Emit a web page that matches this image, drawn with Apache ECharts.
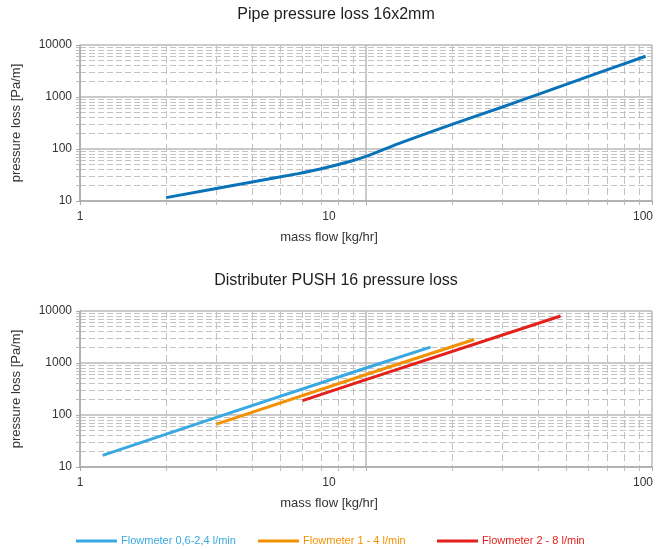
<!DOCTYPE html>
<html><head><meta charset="utf-8">
<script src="https://cdn.jsdelivr.net/npm/echarts@6/dist/echarts.min.js"></script>
<style>html,body{margin:0;padding:0;background:#fff}#c{width:656px;height:549px}</style>
</head><body><div id="c"></div>
<script>
const FONT = '"Liberation Sans", Arial, Helvetica, sans-serif';
const titleTop = 'Pipe pressure loss 16x2mm';
const titleBottom = 'Distributer PUSH 16 pressure loss';
const xAxisName = 'mass flow [kg/hr]';
const yAxisName = 'pressure loss [Pa/m]';
const xTickLabels = [1, 10, 100];
const yTickLabels = [10, 100, 1000, 10000];
const xMinor = [2,3,4,5,6,7,8,9,20,30,40,50,60,70,80,90];
const yMinor = [20,30,40,50,60,70,80,90,200,300,400,500,600,700,800,900,2000,3000,4000,5000,6000,7000,8000,9000];

const pipeFlow = [2.0, 4.0, 5.8, 6.8, 8.9, 10, 13, 20, 30, 40, 60, 95];
const pipeLoss = [11.6, 23.2, 33.6, 40.2, 58.8, 72, 127, 298, 643, 1127, 2500, 6070];

const seriesNames = ['Flowmeter 0,6-2,4 l/min', 'Flowmeter 1 - 4 l/min', 'Flowmeter 2 - 8 l/min'];
const flowA = [1.2, 3, 10, 16.8];
const lossA = [16.7, 90, 800, 2020];
const flowB = [3, 10, 23.9];
const lossB = [66.7, 600, 2830];
const flowC = [6, 10, 47.9];
const lossC = [189, 480, 8020];

const colPipe = '#0a72b9';
const colA = '#38a9e1';
const colB = '#f39200';
const colC = '#e3201b';

const pair = (xs, ys) => xs.map((x, i) => [x, ys[i]]);
const TXT = '#333';

function xAxesFor(g) {
  return [
    { type: 'log', logBase: 10, gridIndex: g, min: 1, max: 100, position: 'bottom',
      axisLine: { show: false }, axisLabel: { show: false },
      axisTick: { show: true, customValues: xMinor, length: 4, lineStyle: { color: '#bdbdbd' } },
      splitLine: { show: true, lineStyle: { color: '#c3c3c3', width: 1, type: [7, 4] } } },
    { type: 'log', logBase: 10, gridIndex: g, min: 1, max: 100, position: 'bottom',
      name: xAxisName, nameLocation: 'middle', nameGap: 30,
      nameTextStyle: { fontFamily: FONT, fontSize: 13, color: TXT, padding: [0, 74, 0, 0] },
      axisLine: { show: true, onZero: false, lineStyle: { color: '#aaaaaa', width: 1.5 } },
      axisTick: { show: true, customValues: xTickLabels, length: 4, lineStyle: { color: '#aaaaaa' } },
      axisLabel: { show: true, customValues: xTickLabels, margin: 10, fontFamily: FONT, fontSize: 12, color: TXT,
        formatter: v => { const r = Math.round(v); return r === 10 ? '{ten|10}' : r === 100 ? '{hun|100}' : '{one|' + r + '}'; },
        rich: {
          one: { fontFamily: FONT, fontSize: 12, color: TXT },
          ten: { fontFamily: FONT, fontSize: 12, color: TXT, padding: [0, 74, 0, 0] },
          hun: { fontFamily: FONT, fontSize: 12, color: TXT, padding: [0, 18, 0, 0] }
        } },
      splitLine: { show: true, lineStyle: { color: '#b8b8b8', width: 1.5 } } }
  ];
}
function yAxesFor(g) {
  return [
    { type: 'log', logBase: 10, gridIndex: g, min: 10, max: 10000, position: 'left',
      axisLine: { show: false }, axisLabel: { show: false },
      axisTick: { show: true, customValues: yMinor, length: 4, lineStyle: { color: '#bdbdbd' } },
      splitLine: { show: true, lineStyle: { color: '#c3c3c3', width: 1, type: [6, 3] } } },
    { type: 'log', logBase: 10, gridIndex: g, min: 10, max: 10000, position: 'left',
      name: yAxisName, nameLocation: 'middle', nameGap: 57, nameRotate: 90,
      nameTextStyle: { fontFamily: FONT, fontSize: 13, color: TXT },
      axisLine: { show: true, onZero: false, lineStyle: { color: '#aaaaaa', width: 1.5 } },
      axisTick: { show: true, customValues: yTickLabels, length: 4, lineStyle: { color: '#aaaaaa' } },
      axisLabel: { show: true, customValues: yTickLabels, margin: 8, fontFamily: FONT, fontSize: 12, color: TXT,
        formatter: v => String(Math.round(v)) },
      splitLine: { show: true, lineStyle: { color: '#b8b8b8', width: 1.5 } } }
  ];
}

function legendFor(i, left, color) {
  return { data: [{ name: seriesNames[i], icon: 'rect', itemStyle: { color: color } , textStyle: { color: color } }],
    left: left, top: 535.5, padding: 0,
    itemWidth: 41, itemHeight: 3, itemGap: 4, selectedMode: false,
    textStyle: { fontFamily: FONT, fontSize: 11, color: color, padding: [0, 0, 0, -1] } };
}

const chart = echarts.init(document.getElementById('c'), null, { renderer: 'canvas' });
chart.setOption({
  backgroundColor: '#fff',
  animation: false,
  title: [
    { text: titleTop, left: 331, top: 2, textAlign: 'center',
      textStyle: { fontFamily: FONT, fontSize: 16, fontWeight: 'normal', color: '#1e1e1e' } },
    { text: titleBottom, left: 331, top: 268, textAlign: 'center',
      textStyle: { fontFamily: FONT, fontSize: 16, fontWeight: 'normal', color: '#1e1e1e' } }
  ],
  legend: [legendFor(0, 76, colA), legendFor(1, 258, colB), legendFor(2, 437, colC)],
  grid: [
    { left: 80, top: 45, width: 575, height: 156 },
    { left: 80, top: 311, width: 575, height: 156 }
  ],
  xAxis: [...xAxesFor(0), ...xAxesFor(1)],
  yAxis: [...yAxesFor(0), ...yAxesFor(1)],
  series: [
    { name: 'Pipe 16x2mm', type: 'line', xAxisIndex: 1, yAxisIndex: 1, data: pair(pipeFlow, pipeLoss),
      smooth: 0.3, symbol: 'none', lineStyle: { color: colPipe, width: 3 }, itemStyle: { color: colPipe } },
    { name: seriesNames[0], type: 'line', xAxisIndex: 3, yAxisIndex: 3, data: pair(flowA, lossA),
      symbol: 'none', lineStyle: { color: colA, width: 3 }, itemStyle: { color: colA } },
    { name: seriesNames[1], type: 'line', xAxisIndex: 3, yAxisIndex: 3, data: pair(flowB, lossB),
      symbol: 'none', lineStyle: { color: colB, width: 3 }, itemStyle: { color: colB } },
    { name: seriesNames[2], type: 'line', xAxisIndex: 3, yAxisIndex: 3, data: pair(flowC, lossC),
      symbol: 'none', lineStyle: { color: colC, width: 3 }, itemStyle: { color: colC } }
  ]
});
</script></body></html>
